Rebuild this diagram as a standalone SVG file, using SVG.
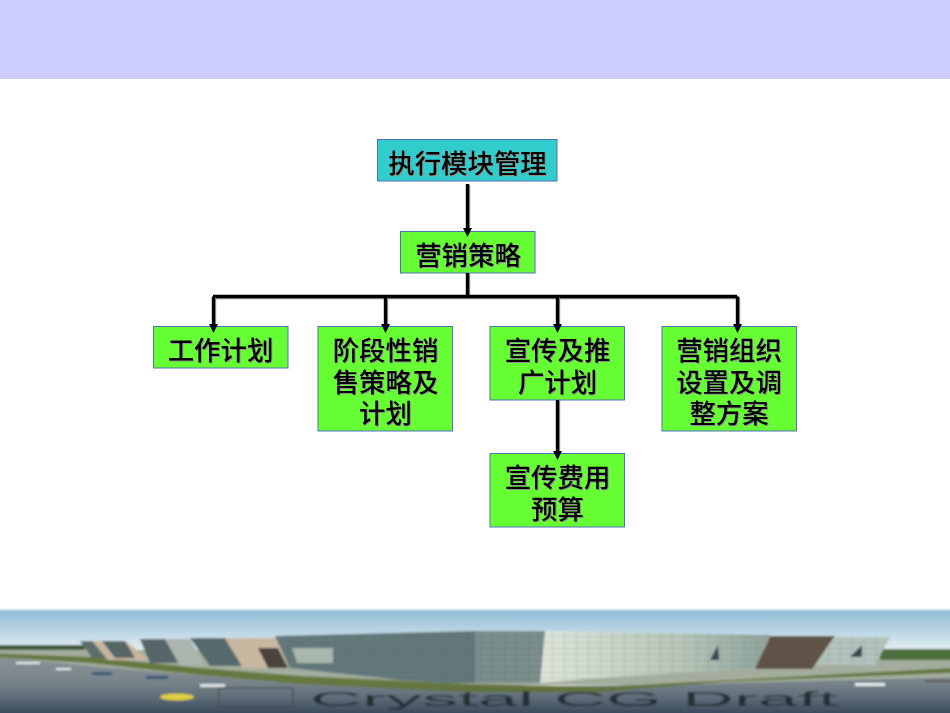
<svg xmlns="http://www.w3.org/2000/svg" width="950" height="713" viewBox="0 0 950 713">
<style>
.box{stroke:#4f72bc;stroke-width:1}
.g{fill:#66ff33}
.c{fill:#33cccc}
.t{font-family:"Noto Sans CJK SC","Liberation Sans",sans-serif;font-size:26.400px;font-weight:500;fill:#000;text-anchor:middle;filter:drop-shadow(1.500px 1.500px .5px #8f8f8f)}
.ln{stroke:#000;stroke-width:3.400;fill:none;filter:drop-shadow(1.500px 1px .5px #999)}
</style>
<defs>
<linearGradient id="sky" x1="0" y1="0" x2="0" y2="1"><stop offset="0" stop-color="#8fbbd6"/><stop offset=".6" stop-color="#c7dde8"/><stop offset="1" stop-color="#eef3f2"/></linearGradient>
<linearGradient id="road" x1="0" y1="0" x2="0" y2="1"><stop offset="0" stop-color="#8b9497"/><stop offset="0.55" stop-color="#6c7a83"/><stop offset="1" stop-color="#2a3c54"/></linearGradient>
<linearGradient id="glass" x1="0" y1="0" x2="1" y2="0"><stop offset="0" stop-color="#dfe6dc"/><stop offset="0.6" stop-color="#b9c8ba"/><stop offset="1" stop-color="#8fa39c"/></linearGradient>
<linearGradient id="fade" x1="0" y1="0" x2="0" y2="1"><stop offset="0" stop-color="#1c2c40" stop-opacity="0"/><stop offset="1" stop-color="#1c2c40" stop-opacity=".6"/></linearGradient>
<pattern id="grid" width="12" height="6" patternUnits="userSpaceOnUse"><path d="M0 0H12M0 0V6" stroke="#3f5252" stroke-width=".7" fill="none" opacity=".45"/></pattern>
<filter id="soft" filterUnits="userSpaceOnUse" x="-20" y="600" width="990" height="133"><feGaussianBlur stdDeviation=".8"/></filter>
</defs>
<rect width="950" height="713" fill="#fff"/>
<rect width="950" height="79" fill="#ccccff"/>

<g id="photo">
<g filter="url(#soft)">
<rect x="-20" y="610" width="990" height="45" fill="url(#sky)"/>
<rect x="-20" y="645" width="105" height="5" fill="#3f5a3a"/>
<rect x="-20" y="650" width="990" height="35" fill="#a4ad9d"/>
<rect x="880" y="649" width="90" height="11" fill="#4d6e3c"/>
<path d="M-20 655L100 667L280 682L475 687L650 685L970 677V733H-20Z" fill="url(#road)"/>
<path d="M-20 653L90 657L200 668L300 676L470 684L600 687L970 667V672L720 682L600 692L470 692L300 684L200 675L90 663L-20 656Z" fill="#66783f"/>
<path d="M80 641H100L108 658H92Z" fill="#5d6c6c"/><path d="M92 641H125L150 660H108Z" fill="#c9b5a0"/>
<path d="M102 641H125L135 658H115Z" fill="#566666"/>
<path d="M140 639H165L180 663H150Z" fill="#56666b"/><path d="M165 639H190L205 666H180Z" fill="#aab5ae"/>
<path d="M190 638H225L242 666H210Z" fill="#566a6e"/><path d="M225 638H278L288 668H243Z" fill="#c8b8a2"/>
<path d="M258 648H278L288 668H268Z" fill="#4a433c"/>
<path d="M275 636L475 631V683H443L400 680L290 668Z" fill="#64787a"/>
<path d="M275 636L475 631V683H443L400 680L290 668Z" fill="url(#grid)"/>
<path d="M292 648H333V663H297Z" fill="#a7b7ae"/>
<path d="M475 631H545V683H475Z" fill="#7b8e8c"/>
<path d="M475 631H545V683H475Z" fill="url(#grid)"/>
<path d="M545 631L770 635L755 668L600 678L540 683Z" fill="url(#glass)"/>
<path d="M545 631L770 635L755 668L600 678L540 683Z" fill="url(#grid)"/>
<path d="M770 636H835L812 669H755Z" fill="#5e5347"/>
<path d="M835 637H890L875 665H815Z" fill="#b3c4bd"/>
<path d="M835 637H890L875 665H815Z" fill="url(#grid)"/>
<path d="M718 645L719 660H710Z" fill="#31484f"/><path d="M862 645V657H850Z" fill="#31484f"/>
<rect x="-20" y="684" width="990" height="49" fill="url(#fade)"/>
<ellipse cx="177" cy="697" rx="17" ry="3.500" fill="#e0cf3f"/>
<rect x="200" y="684" width="25" height="3" fill="#dfe5e5"/>
<rect x="92" y="672" width="20" height="3" fill="#3b5677"/><rect x="146" y="676" width="22" height="3" fill="#3b5677"/>
<rect x="16" y="662" width="24" height="2" fill="#e8eded"/><rect x="56" y="668" width="15" height="2" fill="#e8eded"/>
<rect x="855" y="683" width="30" height="3" fill="#e8eded"/><rect x="925" y="680" width="45" height="2" fill="#555"/>
<rect x="219" y="688" width="74" height="19" fill="none" stroke="#444" stroke-width="1"/>
<text x="310" y="706" font-family="'Liberation Sans',sans-serif" font-size="20" fill="#1f262d" opacity=".85" textLength="528" lengthAdjust="spacingAndGlyphs">Crystal CG Draft</text>
</g>
</g>

<g id="n1"><rect class="box c" x="377.500" y="139.500" width="179.500" height="41.500"/><text class="t" x="467.500" y="172.500">执行模块管理</text></g>
<g id="n2"><rect class="box g" x="400.500" y="231.500" width="134.500" height="41.500"/><text class="t" x="468" y="265">营销策略</text></g>
<g id="n3"><rect class="box g" x="153.500" y="326.500" width="134.500" height="41.500"/><text class="t" x="220.500" y="359.500">工作计划</text></g>
<g id="n4"><rect class="box g" x="318" y="326.500" width="134.500" height="104.500"/>
<text class="t" x="385.500" y="359.500">阶段性销<tspan x="385.500" dy="32">售策略及</tspan><tspan x="385.500" dy="31">计划</tspan></text></g>
<g id="n5"><rect class="box g" x="490" y="326.500" width="134.500" height="73.500"/>
<text class="t" x="557.500" y="359.500">宣传及推<tspan x="557.500" dy="32">广计划</tspan></text></g>
<g id="n6"><rect class="box g" x="662" y="326.500" width="134.500" height="104.500"/>
<text class="t" x="729" y="359.500">营销组织<tspan x="729" dy="32">设置及调</tspan><tspan x="729" dy="31">整方案</tspan></text></g>
<g id="n7"><rect class="box g" x="490" y="453.500" width="134.500" height="73.500"/>
<text class="t" x="557.500" y="487">宣传费用<tspan x="557.500" dy="32">预算</tspan></text></g>

<g id="connectors">
<path class="ln" d="M467.500 184V229"/><path d="M463 228L467.500 237L472 228Z" fill="#000"/>
<path class="ln" d="M467.500 273V296.500M213 296.500H737"/>
<path class="ln" d="M213.500 296.500V325"/><path d="M209 324L213.500 333L218 324Z" fill="#000"/>
<path class="ln" d="M385.500 296.500V325"/><path d="M381 324L385.500 333L390 324Z" fill="#000"/>
<path class="ln" d="M557.500 296.500V325"/><path d="M553 324L557.500 333L562 324Z" fill="#000"/>
<path class="ln" d="M737.500 296.500V325"/><path d="M733 324L737.500 333L742 324Z" fill="#000"/>
<path class="ln" d="M557.500 400V452"/><path d="M553 451L557.500 460L562 451Z" fill="#000"/>
</g>
</svg>
